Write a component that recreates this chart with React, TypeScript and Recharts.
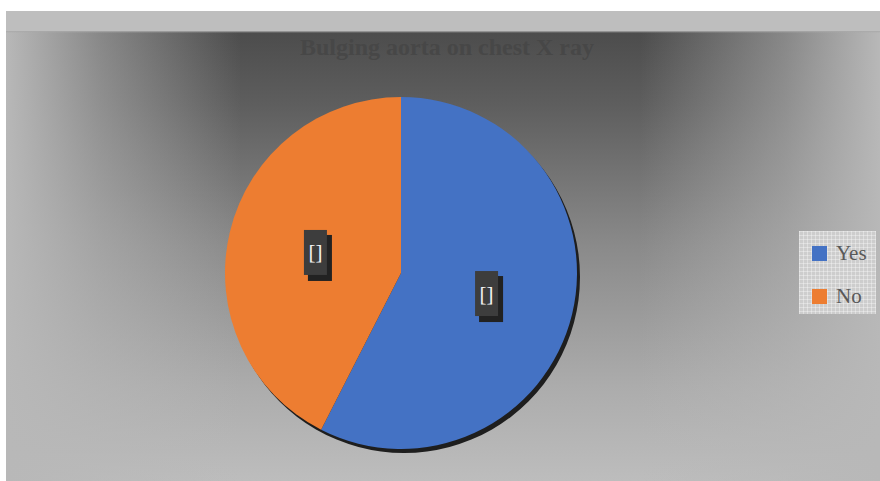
import React from "react";
import { PieChart, Pie, Cell, Legend } from "recharts";

const categories = ["Yes", "No"];
const values = [23, 17];
const colors = ["#4472c4", "#ed7d31"];
const labelTexts = ["[]", "[]"];
const title = "Bulging aorta on chest X ray";

const data = categories.map((name, i) => ({ name, value: values[i], label: labelTexts[i] }));
const shadowData = [{ name: "shadow", value: 1 }];

const W = 874;
const H = 470;
const CX = 395;
const CY = 262;
const R = 176;
const RADIAN = Math.PI / 180;

const renderLabel = (props: any) => {
  const { cx, cy, midAngle, outerRadius, index } = props;
  const r = outerRadius * 0.5;
  const x = cx + r * Math.cos(-midAngle * RADIAN);
  const y = cy + r * Math.sin(-midAngle * RADIAN);
  const bw = 23;
  const bh = 45;
  return (
    <g key={`lbl-${index}`}>
      <rect x={x - bw / 2 + 4} y={y - bh / 2 + 5} width={bw + 1} height={bh + 1} fill="#222222" />
      <rect x={x - bw / 2} y={y - bh / 2} width={bw} height={bh} fill="#3d3d3d" />
      <text
        x={x}
        y={y + 7}
        textAnchor="middle"
        fill="#f2f2f2"
        fontFamily="'Liberation Serif', 'DejaVu Serif', serif"
        fontSize={21}
      >
        {data[index].label}
      </text>
    </g>
  );
};

const LegendContent = () => (
  <div
    style={{
      width: 77,
      height: 83,
      boxSizing: "border-box",
      paddingLeft: 13,
      paddingTop: 12,
      backgroundColor: "#cdcdcd",
      backgroundImage:
        "repeating-linear-gradient(to right, rgba(255,255,255,0.35) 0 1px, transparent 1px 4px), repeating-linear-gradient(to bottom, rgba(255,255,255,0.35) 0 1px, transparent 1px 4px)",
      fontFamily: "'Liberation Serif', 'DejaVu Serif', serif",
      fontSize: 21,
      color: "#595959",
    }}
  >
    {categories.map((c, i) => (
      <div key={c} style={{ display: "flex", alignItems: "center", height: 21, marginTop: i === 0 ? 0 : 22 }}>
        <span style={{ display: "inline-block", width: 15, height: 15, background: colors[i], marginRight: 9 }} />
        <span style={{ lineHeight: "21px" }}>{c}</span>
      </div>
    ))}
  </div>
);

export default function App() {
  return (
    <div
      style={{
        position: "absolute",
        left: 6,
        top: 11,
        width: W,
        height: H,
        background: [
          "linear-gradient(to bottom, #bebebe 0px, #bebebe 20px, #a9a9a9 20px, transparent 22px)",
          "linear-gradient(to right, #b8b8b8 0px, rgba(184,184,184,0.55) 95px, rgba(184,184,184,0) 235px)",
          "linear-gradient(to left, #b8b8b8 0px, rgba(184,184,184,0.55) 95px, rgba(184,184,184,0) 240px)",
          "linear-gradient(to bottom, #4c4c4c 20px, #5e5e5e 20%, #8a8a8a 50%, #acacac 80%, #bdbdbd 100%)",
        ].join(", "),
      }}
    >
      <div
        style={{
          position: "absolute",
          left: 4,
          top: 24,
          width: W,
          textAlign: "center",
          fontFamily: "'Liberation Serif', 'DejaVu Serif', serif",
          fontWeight: "bold",
          fontSize: 24,
          lineHeight: "24px",
          color: "#474747",
        }}
      >
        {title}
      </div>
      <PieChart
        width={W}
        height={H}
        margin={{ top: 0, right: 0, bottom: 0, left: 0 }}
        style={{ position: "absolute", left: 0, top: 0 }}
      >
        <Pie
          data={shadowData}
          dataKey="value"
          cx={CX + 3}
          cy={CY + 4}
          outerRadius={R}
          startAngle={90}
          endAngle={-270}
          stroke="none"
          fill="#1e1e1e"
          isAnimationActive={false}
          legendType="none"
        />
        <Pie
          data={data}
          dataKey="value"
          nameKey="name"
          cx={CX}
          cy={CY}
          outerRadius={R}
          startAngle={90}
          endAngle={-270}
          stroke="none"
          label={renderLabel}
          labelLine={false}
          isAnimationActive={false}
        >
          {data.map((d, i) => (
            <Cell key={d.name} fill={colors[i]} />
          ))}
        </Pie>
        <Legend
          content={<LegendContent />}
          wrapperStyle={{ position: "absolute", left: 793, top: 220, width: 77, height: 83 }}
        />
      </PieChart>
    </div>
  );
}
